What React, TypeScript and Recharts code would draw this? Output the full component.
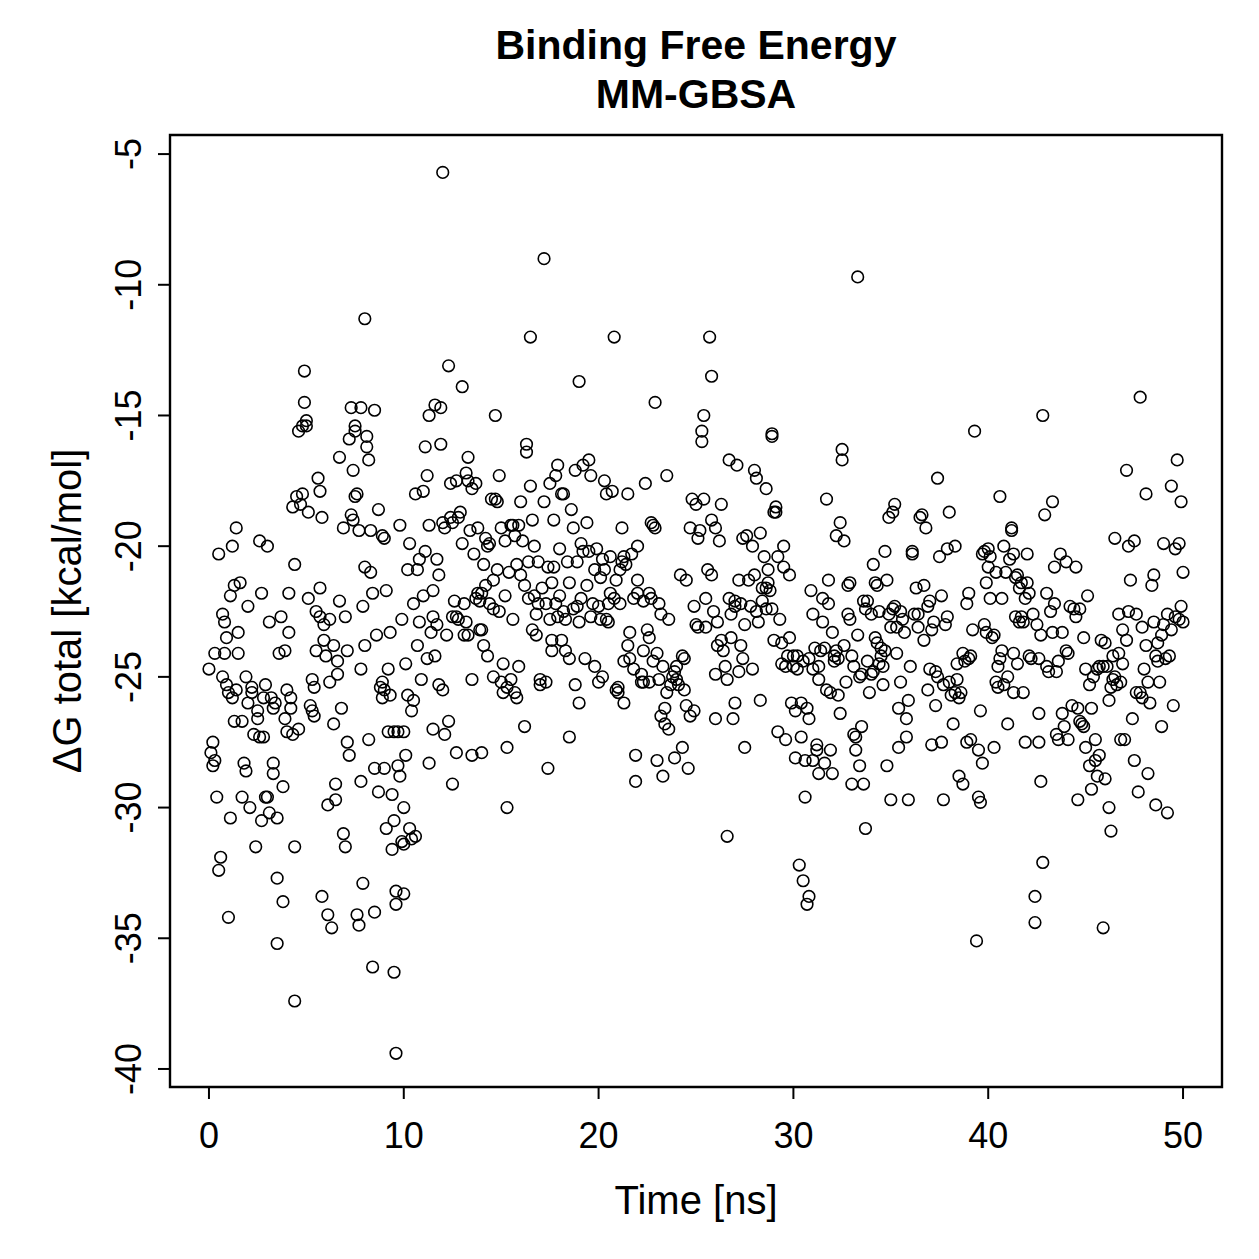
import React from "react";
import { ScatterChart, Scatter, XAxis, YAxis, ReferenceArea } from "recharts";

// Time [ns], ΔG total [kcal/mol] pairs, grouped by time window
const frames0to10: [number, number][] = [
  [0,-24.7],[0.1,-27.9],[0.2,-27.5],[0.2,-28.4],[0.3,-28.2],[0.3,-24.1],[0.4,-29.6],[0.5,-32.4],[0.6,-31.9],[0.5,-20.3],
  [0.7,-22.6],[0.7,-25.0],[0.8,-22.9],[0.8,-24.1],[0.9,-23.5],[0.9,-25.3],[1.0,-25.6],[1.0,-34.2],[1.1,-30.4],[1.1,-21.9],
  [1.2,-20.0],[1.2,-25.8],[1.3,-26.7],[1.3,-21.5],[1.4,-19.3],[1.4,-25.5],[1.5,-23.3],[1.5,-24.1],[1.6,-21.4],[1.7,-29.6],
  [1.7,-26.7],[1.8,-28.3],[1.9,-25.0],[1.9,-28.6],[2.0,-26.0],[2.0,-22.3],[2.1,-30.0],[2.2,-25.4],[2.2,-25.6],[2.3,-27.2],
  [2.4,-31.5],[2.5,-26.6],[2.5,-26.3],[2.6,-19.8],[2.6,-27.3],[2.7,-30.5],[2.7,-21.8],[2.8,-25.8],[2.8,-27.3],[2.9,-29.6],
  [2.9,-25.3],[3.0,-20.0],[3.0,-29.6],[3.1,-22.9],[3.1,-30.2],[3.2,-25.8],[3.3,-28.3],[3.3,-28.7],[3.3,-26.2],[3.4,-26.0],
  [3.5,-32.7],[3.5,-35.2],[3.5,-30.4],[3.6,-24.1],[3.7,-22.7],[3.8,-29.2],[3.8,-33.6],[3.9,-24.0],[3.9,-26.6],[4.0,-27.1],
  [4.0,-25.5],[4.1,-23.3],[4.1,-21.8],[4.2,-26.2],[4.2,-25.8],[4.3,-27.2],[4.3,-18.5],[4.4,-31.5],[4.4,-37.4],[4.4,-20.7],
  [4.5,-18.1],[4.6,-27.0],[4.6,-15.6],[4.7,-18.4],[4.8,-15.4],[4.8,-18.0],[4.9,-14.5],[4.9,-13.3],[5.0,-15.4],[5.0,-15.2],
  [5.1,-18.7],[5.1,-22.0],[5.2,-26.1],[5.3,-26.3],[5.3,-25.1],[5.4,-26.5],[5.4,-25.4],[5.5,-24.0],[5.5,-22.5],[5.6,-17.4],
  [5.7,-17.9],[5.7,-21.6],[5.7,-22.7],[5.8,-33.4],[5.8,-18.9],[5.9,-23.0],[5.9,-23.6],[6.0,-24.2],[6.1,-34.1],[6.1,-29.9],
  [6.2,-22.8],[6.2,-25.2],[6.3,-34.6],[6.4,-23.8],[6.4,-26.8],[6.5,-29.7],[6.5,-29.1],[6.6,-24.9],[6.6,-24.4],[6.7,-22.1],
  [6.7,-16.6],[6.8,-26.2],[6.9,-19.3],[6.9,-31.0],[7.0,-31.5],[7.0,-22.7],[7.1,-24.0],[7.1,-27.5],[7.2,-28.0],[7.2,-15.9],
  [7.3,-14.7],[7.3,-18.8],[7.4,-17.1],[7.4,-19.0],[7.5,-15.6],[7.5,-15.4],[7.5,-18.1],[7.6,-18.0],[7.6,-34.1],[7.7,-34.5],
  [7.7,-19.4],[7.8,-29.0],[7.8,-24.7],[7.8,-14.7],[7.9,-32.9],[7.9,-22.3],[8.0,-11.3],[8.0,-20.8],[8.0,-23.8],[8.1,-16.2],
  [8.1,-15.8],[8.2,-16.7],[8.2,-27.4],[8.3,-19.4],[8.3,-21.0],[8.4,-36.1],[8.4,-21.8],[8.5,-28.5],[8.5,-34.0],[8.5,-14.8],
  [8.6,-23.4],[8.7,-29.4],[8.7,-18.6],[8.8,-25.4],[8.9,-25.8],[8.9,-25.2],[8.9,-19.6],[9.0,-19.7],[9.0,-25.5],[9.0,-28.5],
  [9.1,-30.8],[9.1,-21.7],[9.2,-27.1],[9.2,-24.7],[9.3,-23.3],[9.3,-25.7],[9.4,-31.6],[9.4,-29.5],[9.5,-36.3],[9.5,-27.1],
  [9.5,-30.5],[9.6,-39.4],[9.6,-33.2],[9.6,-33.7],[9.7,-28.4],[9.7,-27.1],[9.8,-28.8],[9.8,-19.2],[9.9,-22.8],[9.9,-31.3]
];

const frames10to20: [number, number][] = [
  [10.0,-33.3],[10.0,-30.0],[10.0,-31.4],[10.0,-27.1],[10.1,-28.0],[10.1,-24.5],[10.2,-20.9],[10.2,-25.7],[10.3,-30.8],[10.3,-19.9],
  [10.4,-26.3],[10.4,-31.2],[10.5,-22.2],[10.6,-31.1],[10.5,-25.9],[10.6,-18.0],[10.7,-20.9],[10.7,-23.8],[10.8,-22.9],[10.9,-25.1],
  [10.8,-20.5],[11.0,-21.9],[11.0,-17.9],[11.1,-16.2],[11.1,-20.2],[11.2,-24.3],[11.2,-17.3],[11.3,-15.0],[11.3,-19.2],[11.3,-28.3],
  [11.4,-23.3],[11.5,-21.7],[11.5,-22.7],[11.5,-27.0],[11.6,-14.6],[11.6,-24.2],[11.7,-23.0],[11.7,-20.5],[11.8,-21.1],[11.8,-25.3],
  [11.9,-14.7],[11.9,-16.1],[12.0,-5.7],[12.0,-19.1],[12.0,-25.5],[12.1,-27.2],[12.1,-19.3],[12.2,-23.4],[12.3,-13.1],[12.3,-26.7],
  [12.4,-17.6],[12.4,-18.9],[12.5,-29.1],[12.5,-22.7],[12.5,-19.1],[12.6,-22.1],[12.7,-17.5],[12.7,-22.7],[12.7,-27.9],[12.8,-18.9],
  [12.8,-22.8],[12.9,-18.7],[13.0,-13.9],[13.0,-19.9],[13.1,-22.2],[13.1,-23.4],[13.2,-17.2],[13.2,-22.9],[13.3,-17.5],[13.3,-16.6],
  [13.3,-23.4],[13.4,-19.4],[13.5,-28.0],[13.5,-17.8],[13.5,-25.1],[13.6,-20.3],[13.7,-22.0],[13.7,-17.6],[13.8,-19.3],[13.8,-21.8],
  [13.9,-22.1],[13.9,-23.2],[14.0,-21.8],[14.0,-27.9],[14.0,-23.2],[14.1,-20.7],[14.1,-23.8],[14.2,-19.7],[14.2,-21.5],[14.3,-24.2],
  [14.3,-20.0],[14.4,-22.2],[14.4,-19.9],[14.5,-18.2],[14.6,-21.3],[14.6,-25.0],[14.6,-22.4],[14.7,-18.2],[14.7,-15.0],[14.8,-18.3],
  [14.8,-20.9],[14.9,-17.3],[14.9,-22.5],[15.0,-25.2],[15.0,-19.3],[15.1,-25.6],[15.1,-24.5],[15.2,-19.8],[15.2,-21.9],[15.3,-25.4],
  [15.3,-27.7],[15.3,-30.0],[15.4,-21.0],[15.5,-19.2],[15.5,-25.1],[15.6,-19.2],[15.6,-22.8],[15.7,-19.6],[15.7,-25.6],[15.8,-25.8],
  [15.8,-20.7],[15.9,-19.2],[15.9,-24.6],[16.0,-18.3],[16.0,-21.1],[16.1,-19.8],[16.2,-21.5],[16.2,-26.9],[16.3,-16.1],[16.3,-16.4],
  [16.4,-20.6],[16.4,-22.0],[16.5,-12.0],[16.5,-17.7],[16.6,-19.0],[16.6,-23.2],[16.7,-21.9],[16.7,-20.0],[16.8,-22.6],[16.8,-23.4],
  [16.9,-22.2],[16.9,-20.6],[17.0,-25.1],[17.0,-25.3],[17.1,-21.6],[17.2,-9.0],[17.2,-18.3],[17.3,-22.2],[17.3,-25.2],[17.4,-20.8],
  [17.4,-28.5],[17.5,-17.6],[17.5,-22.8],[17.6,-23.6],[17.6,-21.4],[17.6,-24.0],[17.7,-19.0],[17.7,-20.8],[17.8,-22.2],[17.8,-17.3],
  [17.9,-16.9],[17.9,-22.7],[18.0,-21.9],[18.0,-20.1],[18.1,-23.6],[18.1,-18.0],[18.2,-22.5],[18.2,-18.0],[18.3,-24.0],[18.3,-22.8],
  [18.4,-20.6],[18.5,-24.3],[18.5,-21.4],[18.5,-27.3],[18.6,-18.6],[18.7,-22.4],[18.7,-19.3],[18.8,-17.1],[18.8,-25.3],[18.9,-20.6],
  [18.9,-22.3],[19.0,-13.7],[19.0,-26.0],[19.0,-22.9],[19.1,-22.0],[19.1,-19.9],[19.2,-16.9],[19.2,-20.2],[19.3,-24.3],[19.4,-21.5],
  [19.4,-19.1],[19.5,-16.7],[19.5,-20.2],[19.6,-17.3],[19.6,-22.7],[19.7,-22.2],[19.8,-20.9],[19.8,-24.6],[19.9,-20.1]
];

const frames20to30: [number, number][] = [
  [20.0,-22.3],[20.0,-25.2],[20.1,-21.2],[20.1,-22.8],[20.2,-20.5],[20.2,-25.0],[20.3,-20.9],[20.3,-17.5],[20.4,-18.0],[20.4,-22.8],
  [20.5,-22.9],[20.5,-22.2],[20.6,-21.8],[20.6,-20.4],[20.8,-12.0],[20.7,-17.9],[20.8,-22.0],[20.9,-25.5],[20.9,-21.3],[21.0,-25.6],
  [21.0,-25.4],[21.1,-20.9],[21.1,-22.2],[21.2,-19.3],[21.2,-20.6],[21.3,-24.4],[21.3,-26.0],[21.3,-20.4],[21.4,-20.7],[21.5,-23.8],
  [21.5,-18.0],[21.6,-23.3],[21.6,-24.3],[21.7,-20.3],[21.8,-22.0],[21.8,-24.7],[21.9,-29.0],[21.9,-28.0],[22.0,-21.3],[22.0,-20.0],
  [22.0,-21.8],[22.2,-24.9],[22.2,-25.2],[22.3,-24.0],[22.3,-25.2],[22.3,-22.1],[22.4,-17.6],[22.5,-23.2],[22.6,-23.5],[22.6,-21.8],
  [22.6,-25.2],[22.7,-22.0],[22.7,-19.1],[22.8,-19.2],[22.8,-24.4],[22.9,-14.5],[22.9,-19.3],[23.0,-28.2],[23.0,-24.1],[23.1,-22.2],
  [23.1,-25.1],[23.2,-26.5],[23.2,-22.6],[23.3,-24.6],[23.3,-28.8],[23.4,-26.8],[23.4,-26.2],[23.5,-25.6],[23.5,-17.3],[23.6,-22.8],
  [23.6,-27.0],[23.7,-25.3],[23.8,-25.0],[23.9,-24.8],[23.9,-28.1],[24.0,-25.1],[24.0,-24.6],[24.1,-25.3],[24.2,-21.1],[24.3,-24.2],
  [24.3,-27.7],[24.4,-25.5],[24.4,-24.3],[24.5,-21.3],[24.5,-26.1],[24.6,-28.5],[24.7,-19.3],[24.7,-26.5],[24.8,-18.2],[24.9,-22.3],
  [24.9,-26.3],[25.0,-18.4],[25.0,-23.0],[25.1,-23.1],[25.1,-19.7],[25.2,-19.4],[25.3,-15.6],[25.3,-16.0],[25.4,-15.0],[25.4,-18.2],
  [25.5,-22.0],[25.5,-23.1],[25.6,-20.9],[25.7,-12.0],[25.8,-13.5],[25.8,-19.0],[25.8,-21.1],[25.9,-22.5],[26.0,-26.6],[26.0,-19.3],
  [26.0,-24.9],[26.1,-23.8],[26.1,-22.9],[26.2,-19.8],[26.3,-18.4],[26.3,-23.6],[26.4,-24.0],[26.5,-24.6],[26.6,-31.1],[26.6,-25.1],
  [26.7,-16.7],[26.7,-22.0],[26.8,-22.6],[26.8,-23.5],[26.9,-26.6],[27.0,-26.0],[27.0,-22.3],[27.0,-22.1],[27.1,-16.9],[27.2,-24.8],
  [27.2,-21.3],[27.3,-23.8],[27.3,-22.2],[27.4,-24.3],[27.4,-19.7],[27.5,-23.0],[27.5,-27.7],[27.6,-19.6],[27.7,-21.3],[27.8,-22.3],
  [27.9,-20.0],[27.9,-24.7],[28.0,-17.1],[28.0,-21.1],[28.1,-17.4],[28.1,-22.5],[28.2,-22.9],[28.3,-19.5],[28.3,-25.9],[28.4,-21.6],
  [28.4,-22.1],[28.5,-20.4],[28.6,-17.8],[28.6,-21.6],[28.6,-22.4],[28.7,-21.4],[28.7,-20.9],[28.8,-21.7],[28.9,-15.7],[28.9,-15.8],
  [28.9,-22.4],[29.0,-23.6],[29.0,-18.7],[29.1,-18.5],[29.1,-18.7],[29.2,-20.4],[29.2,-27.1],[29.3,-22.8],[29.4,-23.7],[29.4,-24.5],
  [29.5,-20.8],[29.5,-20.0],[29.6,-24.6],[29.6,-27.4],[29.7,-24.2],[29.8,-23.5],[29.8,-21.1],[29.9,-26.0]
];

const frames30to40: [number, number][] = [
  [30.0,-24.2],[30.0,-24.6],[30.1,-28.1],[30.1,-26.3],[30.2,-24.7],[30.2,-24.2],[30.3,-32.2],[30.4,-27.3],[30.4,-26.0],[30.5,-32.8],
  [30.5,-24.4],[30.6,-28.2],[30.6,-29.6],[30.7,-33.7],[30.7,-26.2],[30.8,-24.3],[30.8,-26.6],[30.8,-33.4],[30.9,-21.7],[31.0,-24.7],
  [31.0,-28.2],[31.0,-22.6],[31.1,-23.9],[31.2,-27.6],[31.2,-27.8],[31.3,-28.7],[31.3,-25.1],[31.3,-24.6],[31.4,-24.0],[31.5,-22.9],
  [31.5,-22.0],[31.6,-23.9],[31.6,-28.3],[31.7,-18.2],[31.7,-25.5],[31.8,-22.2],[31.8,-21.3],[31.9,-27.8],[31.9,-25.6],[32.0,-28.7],
  [32.0,-23.3],[32.1,-24.4],[32.1,-24.2],[32.2,-24.0],[32.2,-19.6],[32.3,-25.7],[32.3,-24.3],[32.4,-19.1],[32.4,-26.4],[32.5,-16.7],
  [32.5,-16.3],[32.6,-19.8],[32.6,-23.8],[32.7,-25.2],[32.8,-22.6],[32.8,-21.5],[32.9,-22.8],[32.9,-21.4],[33.0,-29.1],[33.0,-24.2],
  [33.1,-24.6],[33.1,-27.2],[33.2,-27.8],[33.3,-9.7],[33.2,-27.3],[33.3,-23.4],[33.4,-28.4],[33.4,-25.0],[33.5,-24.9],[33.5,-26.9],
  [33.6,-22.1],[33.6,-29.1],[33.7,-30.8],[33.7,-22.4],[33.8,-24.4],[33.8,-22.1],[33.9,-25.6],[34.0,-24.9],[34.0,-22.6],[34.1,-24.8],
  [34.1,-20.7],[34.2,-21.4],[34.2,-23.5],[34.3,-23.7],[34.3,-21.5],[34.4,-24.5],[34.4,-22.5],[34.5,-23.9],[34.5,-24.2],[34.6,-24.6],
  [34.6,-25.3],[34.7,-24.0],[34.7,-20.2],[34.8,-28.4],[34.8,-21.3],[34.9,-22.6],[34.9,-18.9],[35.0,-23.1],[35.0,-29.7],[35.1,-18.7],
  [35.1,-22.4],[35.2,-18.4],[35.2,-22.3],[35.3,-23.1],[35.3,-24.1],[35.4,-26.2],[35.4,-27.7],[35.5,-25.2],[35.5,-22.5],[35.6,-22.8],
  [35.7,-23.3],[35.8,-26.6],[35.8,-27.3],[35.9,-29.7],[35.9,-25.9],[36.0,-24.6],[36.1,-20.2],[36.1,-20.3],[36.2,-22.6],[36.3,-21.6],
  [36.4,-22.6],[36.4,-23.1],[36.5,-18.9],[36.6,-18.8],[36.7,-23.6],[36.7,-21.5],[36.8,-19.3],[36.9,-22.3],[36.9,-25.5],[37.0,-24.7],
  [37.0,-22.1],[37.1,-23.2],[37.1,-27.6],[37.2,-22.9],[37.3,-24.8],[37.3,-26.1],[37.4,-17.4],[37.4,-25.0],[37.5,-20.4],[37.6,-21.9],
  [37.6,-27.5],[37.7,-29.7],[37.7,-25.3],[37.8,-23.0],[37.9,-22.7],[37.9,-20.1],[38.0,-18.7],[38.0,-25.2],[38.1,-25.7],[38.2,-26.8],
  [38.3,-25.6],[38.3,-20.0],[38.4,-24.5],[38.4,-25.1],[38.5,-28.8],[38.5,-25.8],[38.6,-25.6],[38.7,-29.1],[38.7,-24.1],[38.8,-24.4],
  [38.9,-22.2],[38.9,-27.5],[39.0,-21.8],[39.0,-24.3],[39.1,-24.2],[39.1,-27.4],[39.2,-23.2],[39.3,-15.6],[39.4,-35.1],[39.5,-29.6],
  [39.5,-27.8],[39.6,-26.3],[39.6,-29.8],[39.7,-28.3],[39.7,-20.3],[39.8,-23.0],[39.8,-20.2],[39.9,-21.4],[39.9,-23.3]
];

const frames40to50: [number, number][] = [
  [40.0,-20.8],[40.0,-20.1],[40.1,-20.4],[40.1,-22.0],[40.2,-23.5],[40.3,-27.7],[40.3,-23.4],[40.4,-25.2],[40.4,-21.0],[40.5,-24.6],
  [40.5,-25.4],[40.6,-18.1],[40.6,-24.3],[40.7,-22.0],[40.7,-24.0],[40.8,-25.3],[40.8,-20.0],[40.9,-21.0],[41.0,-25.0],[41.0,-26.8],
  [41.1,-20.5],[41.2,-19.4],[41.2,-19.3],[41.3,-24.1],[41.3,-25.6],[41.3,-20.3],[41.4,-21.2],[41.4,-22.7],[41.5,-21.1],[41.5,-24.5],
  [41.6,-21.6],[41.6,-22.9],[41.7,-21.4],[41.7,-22.7],[41.8,-22.9],[41.8,-25.6],[41.9,-22.0],[41.9,-27.5],[42.0,-20.3],[42.0,-21.4],
  [42.1,-21.8],[42.1,-24.2],[42.2,-24.3],[42.3,-22.6],[42.4,-34.4],[42.4,-33.4],[42.5,-23.0],[42.6,-24.3],[42.6,-27.5],[42.6,-26.4],
  [42.7,-29.0],[42.7,-23.4],[42.8,-32.1],[42.8,-15.0],[42.9,-18.8],[43.0,-24.6],[43.0,-21.8],[43.1,-24.8],[43.2,-22.5],[43.3,-18.3],
  [43.3,-23.3],[43.4,-20.8],[43.4,-22.2],[43.5,-24.8],[43.5,-27.2],[43.6,-24.4],[43.6,-27.4],[43.7,-20.3],[43.8,-23.3],[43.8,-26.4],
  [43.9,-26.9],[44.0,-24.0],[44.0,-20.6],[44.1,-24.1],[44.1,-27.4],[44.2,-22.3],[44.3,-26.1],[44.4,-22.4],[44.5,-20.8],[44.5,-22.7],
  [44.6,-26.2],[44.6,-29.7],[44.7,-22.4],[44.7,-26.7],[44.8,-26.8],[44.9,-26.9],[44.9,-23.5],[45.0,-27.7],[45.0,-24.7],[45.1,-21.9],
  [45.2,-25.3],[45.2,-28.4],[45.3,-26.2],[45.3,-29.3],[45.4,-25.0],[45.5,-28.2],[45.5,-27.4],[45.6,-28.8],[45.6,-24.7],[45.7,-28.0],
  [45.7,-24.6],[45.8,-23.6],[45.9,-34.6],[45.9,-24.6],[46.0,-23.7],[46.0,-28.9],[46.1,-24.6],[46.2,-25.9],[46.2,-30.0],[46.3,-30.9],
  [46.3,-25.4],[46.4,-25.1],[46.4,-24.2],[46.5,-25.0],[46.5,-19.7],[46.6,-25.3],[46.7,-24.1],[46.7,-22.6],[46.8,-27.4],[46.8,-25.2],
  [46.9,-24.5],[46.9,-23.2],[47.0,-27.4],[47.1,-23.6],[47.1,-17.1],[47.2,-20.0],[47.2,-22.5],[47.3,-21.3],[47.4,-26.6],[47.5,-28.2],
  [47.5,-19.8],[47.6,-25.6],[47.6,-22.6],[47.7,-29.4],[47.8,-14.3],[47.8,-25.6],[47.9,-25.8],[47.9,-23.1],[48.0,-24.7],[48.1,-23.8],
  [48.1,-18.0],[48.2,-28.7],[48.2,-25.2],[48.3,-26.0],[48.4,-21.5],[48.5,-22.9],[48.5,-21.1],[48.6,-24.2],[48.6,-29.9],[48.7,-24.4],
  [48.7,-23.7],[48.8,-25.2],[48.9,-23.4],[48.9,-26.9],[49.0,-19.9],[49.0,-23.0],[49.1,-24.3],[49.2,-30.2],[49.2,-22.6],[49.3,-24.2],
  [49.4,-17.7],[49.4,-23.2],[49.5,-26.1],[49.6,-22.7],[49.6,-20.1],[49.7,-16.7],[49.8,-22.8],[49.8,-19.9],[49.9,-22.3],[49.9,-18.3],
  [50.0,-21.0],[50.0,-22.9]
];

const xTicks = [0, 10, 20, 30, 40, 50];
const yTicks = [-40, -35, -30, -25, -20, -15, -10, -5];
const xDomain: [number, number] = [-2, 52];
const yDomain: [number, number] = [-40.69, -4.27];

const titleLines = ["Binding Free Energy", "MM-GBSA"];
const xLabel = "Time [ns]";
const yLabel = "ΔG total [kcal/mol]";

const data = [...frames0to10, ...frames10to20, ...frames20to30, ...frames30to40, ...frames40to50].map(
  ([t, g]) => ({ t, g })
);

const FONT = "'Liberation Sans', Arial, Helvetica, sans-serif";
const W = 1259;
const H = 1259;

const XTick = (props: any) => {
  const { x, y, payload } = props;
  return (
    <text x={x} y={y + 47} textAnchor="middle" fontSize={36} fontFamily={FONT} fill="#000">
      {payload.value}
    </text>
  );
};

const YTick = (props: any) => {
  const { x, y, payload } = props;
  const bx = x - 15;
  return (
    <text
      x={bx}
      y={y}
      transform={`rotate(-90, ${bx}, ${y})`}
      textAnchor="middle"
      fontSize={36}
      fontFamily={FONT}
      fill="#000"
    >
      {payload.value}
    </text>
  );
};

const OpenCircle = (props: any) => {
  const { cx, cy } = props;
  if (cx == null || cy == null) return null;
  return <circle cx={cx} cy={cy} r={5.8} fill="none" stroke="#000" strokeWidth={1.6} />;
};

export default function App() {
  return (
    <div style={{ position: "absolute", left: 0, top: 0, width: W, height: H, background: "#fff" }}>
      <ScatterChart width={W} height={H} margin={{ top: 135, right: 37, bottom: 0, left: 0 }}>
        <XAxis
          type="number"
          dataKey="t"
          domain={xDomain}
          ticks={xTicks}
          allowDataOverflow
          height={172}
          tickSize={12}
          axisLine={false}
          tickLine={{ stroke: "#000", strokeWidth: 2 }}
          tick={XTick}
          interval={0}
        />
        <YAxis
          type="number"
          dataKey="g"
          domain={yDomain}
          ticks={yTicks}
          allowDataOverflow
          width={170}
          tickSize={12}
          axisLine={false}
          tickLine={{ stroke: "#000", strokeWidth: 2 }}
          tick={YTick}
          interval={0}
        />
        <ReferenceArea
          x1={xDomain[0]}
          x2={xDomain[1]}
          y1={yDomain[0]}
          y2={yDomain[1]}
          fill="none"
          fillOpacity={0}
          stroke="#000"
          strokeWidth={2.4}
          ifOverflow="visible"
        />
        <Scatter data={data} isAnimationActive={false} shape={OpenCircle} />
      </ScatterChart>
      <svg
        width={W}
        height={H}
        style={{ position: "absolute", left: 0, top: 0, pointerEvents: "none" }}
      >
        <text x={696} y={59} textAnchor="middle" fontSize={41} fontWeight="bold" fontFamily={FONT} fill="#000">
          {titleLines[0]}
        </text>
        <text x={696} y={108} textAnchor="middle" fontSize={41} fontWeight="bold" fontFamily={FONT} fill="#000">
          {titleLines[1]}
        </text>
        <text x={696} y={1214} textAnchor="middle" fontSize={40} fontFamily={FONT} fill="#000">
          {xLabel}
        </text>
        <text
          x={81}
          y={611}
          transform="rotate(-90, 81, 611)"
          textAnchor="middle"
          fontSize={40}
          fontFamily={FONT}
          fill="#000"
        >
          {yLabel}
        </text>
      </svg>
    </div>
  );
}
